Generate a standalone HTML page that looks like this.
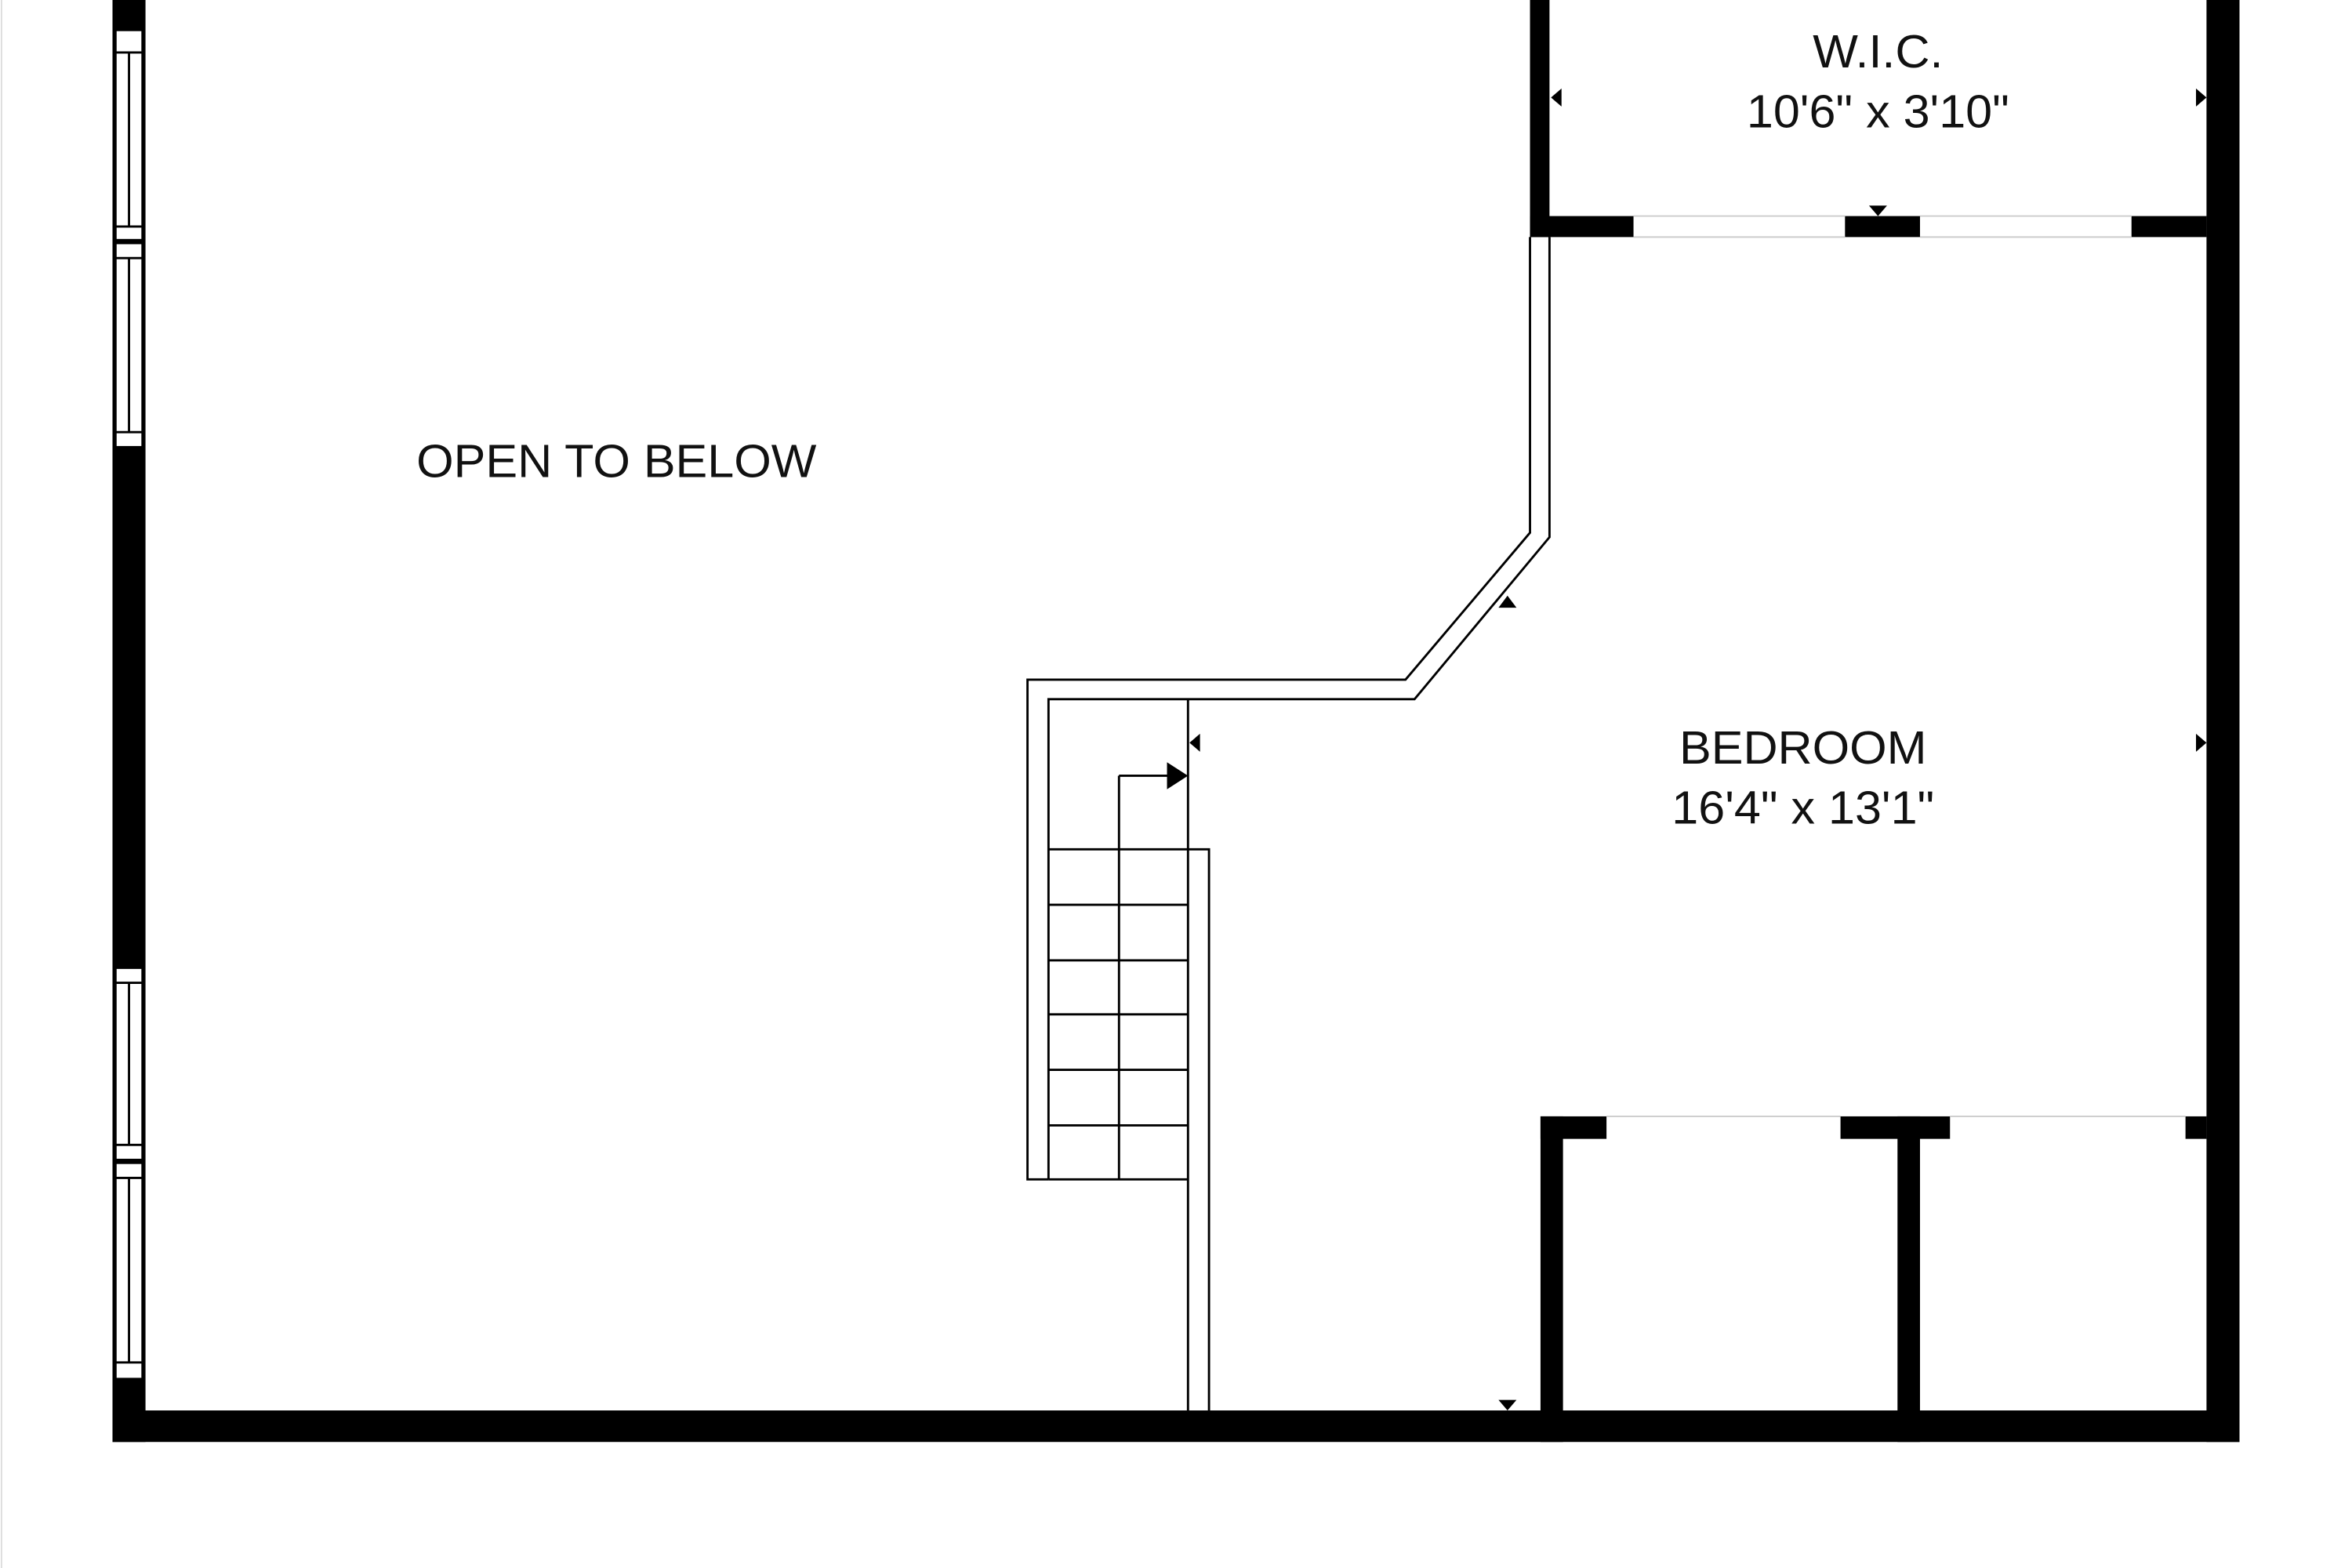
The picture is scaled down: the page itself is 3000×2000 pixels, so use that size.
<!DOCTYPE html>
<html><head><meta charset="utf-8"><style>
html,body{margin:0;padding:0;background:#fff;}
svg{display:block;}
text{font-family:"Liberation Sans",Arial,sans-serif;font-size:31px;fill:#111;text-anchor:middle;}
</style></head><body>
<svg width="3000" height="2000" viewBox="0 0 1568 1045" preserveAspectRatio="none" xmlns="http://www.w3.org/2000/svg">
<rect width="1568" height="1045" fill="#fff"/>
<line x1="1" y1="0" x2="1" y2="1045" stroke="#ddd" stroke-width="1"/>
<rect x="75" y="0" width="22" height="961" fill="#000"/>
<rect x="1471" y="0" width="22" height="961" fill="#000"/>
<rect x="75" y="940" width="1418" height="21" fill="#000"/>
<g fill="#fff" stroke="#000" stroke-width="1.5">
<rect x="77" y="20" width="18" height="140"/>
<rect x="77" y="162" width="18" height="136"/>
<rect x="77" y="645" width="18" height="128"/>
<rect x="77" y="775" width="18" height="144"/>
</g>
<g stroke="#000" stroke-width="1.5">
<line x1="77" y1="35" x2="95" y2="35"/><line x1="77" y1="151" x2="95" y2="151"/>
<line x1="77" y1="172" x2="95" y2="172"/><line x1="77" y1="288" x2="95" y2="288"/>
<line x1="86" y1="35" x2="86" y2="151"/><line x1="86" y1="172" x2="86" y2="288"/>
<line x1="77" y1="655" x2="95" y2="655"/><line x1="77" y1="763" x2="95" y2="763"/>
<line x1="77" y1="785" x2="95" y2="785"/><line x1="77" y1="908" x2="95" y2="908"/>
<line x1="86" y1="655" x2="86" y2="763"/><line x1="86" y1="785" x2="86" y2="908"/>
</g>
<rect x="1020" y="0" width="13" height="158" fill="#000"/>
<rect x="1020" y="144" width="69" height="14" fill="#000"/>
<rect x="1230" y="144" width="50" height="14" fill="#000"/>
<rect x="1421" y="144" width="50" height="14" fill="#000"/>
<g stroke="#ccc" stroke-width="1"><line x1="1089" y1="144" x2="1230" y2="144"/><line x1="1089" y1="158" x2="1230" y2="158"/><line x1="1280" y1="144" x2="1421" y2="144"/><line x1="1280" y1="158" x2="1421" y2="158"/></g>
<rect x="1027" y="744" width="44" height="15" fill="#000"/>
<rect x="1227" y="744" width="73" height="15" fill="#000"/>
<rect x="1457" y="744" width="14" height="15" fill="#000"/>
<rect x="1027" y="744" width="15" height="217" fill="#000"/>
<rect x="1265" y="744" width="15" height="217" fill="#000"/>
<g stroke="#ccc" stroke-width="1"><line x1="1071" y1="744" x2="1227" y2="744"/><line x1="1300" y1="744" x2="1457" y2="744"/></g>
<g fill="none" stroke="#000" stroke-width="1.5">
<polyline points="1020,158 1020,355 937,453 685,453 685,786 699,786"/>
<polyline points="1033,158 1033,358 943,466 699,466 699,786"/>
<line x1="792" y1="466" x2="792" y2="940"/>
<polyline points="792,566 806,566 806,940"/>
<line x1="699" y1="566" x2="792" y2="566"/>
<line x1="699" y1="603" x2="792" y2="603"/>
<line x1="699" y1="640" x2="792" y2="640"/>
<line x1="699" y1="676" x2="792" y2="676"/>
<line x1="699" y1="713" x2="792" y2="713"/>
<line x1="699" y1="750" x2="792" y2="750"/>
<line x1="699" y1="786" x2="792" y2="786"/>
<line x1="746" y1="786" x2="746" y2="517"/>
<line x1="746" y1="517" x2="780" y2="517"/>
</g>
<polygon points="778,508 792,517 778,526" fill="#000"/>
<g fill="#000">
<polygon points="800,489 793,495 800,501"/>
<polygon points="1464,489 1471,495 1464,501"/>
<polygon points="1041,59 1034,65 1041,71"/>
<polygon points="1464,59 1471,65 1464,71"/>
<polygon points="1246,137 1258,137 1252,144"/>
<polygon points="999,405 1011,405 1005,397"/>
<polygon points="999,933 1011,933 1005,940"/>
</g>
<g transform="scale(1.03,1)">
<text x="399" y="318">OPEN TO BELOW</text>
<text x="1215.5" y="45">W.I.C.</text>
<text x="1215.5" y="85">10'6" x 3'10"</text>
<text x="1167" y="509">BEDROOM</text>
<text x="1167" y="549">16'4" x 13'1"</text>
</g>
</svg>
</body></html>
